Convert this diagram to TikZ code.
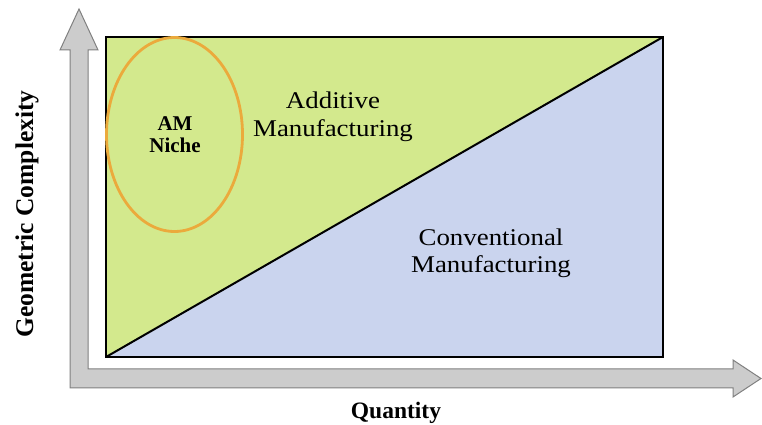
\documentclass[tikz,border=0pt]{standalone}
\usepackage{fontspec}
\setmainfont{Liberation Serif}
\newfontfamily\widefont[FakeStretch=1.12]{Liberation Serif}
\definecolor{amgreen}{RGB}{211,233,141}
\definecolor{cmblue}{RGB}{202,212,238}
\definecolor{nicheorange}{RGB}{235,170,60}
\definecolor{axisfill}{RGB}{204,204,204}
\definecolor{axisdraw}{RGB}{128,128,128}
\begin{document}
\begin{tikzpicture}[x=1pt,y=1pt,
  region/.style={font=\widefont\fontsize{24}{28}\selectfont, anchor=base, inner sep=0pt},
  nichetext/.style={font=\bfseries\fontsize{21}{22}\selectfont, anchor=base, inner sep=0pt},
  axislabel/.style={font=\bfseries\fontsize{23.5}{26}\selectfont, anchor=base, inner sep=0pt}]
\useasboundingbox (0,0) rectangle (762,425);
% axes (one L-shaped block arrow)
\draw[fill=axisfill, draw=axisdraw, line width=1pt, line join=miter]
  (70,37) -- (733,37) -- (733,28) -- (761,46.5) -- (733,65) -- (733,56)
  -- (88,56) -- (88,375) -- (98,375) -- (79,416) -- (60,375) -- (70,375) -- cycle;
% regions
\coordinate (bl) at (106,68);
\coordinate (tr) at (663,388);
\coordinate (tl) at (106,388);
\coordinate (br) at (663,68);
\fill[amgreen] (bl) -- (tl) -- (tr) -- cycle;
\fill[cmblue] (bl) -- (br) -- (tr) -- cycle;
\draw[line width=1.5pt] (bl) rectangle (tr);
\draw[line width=2pt, line cap=round] (bl) -- (tr);
% niche ellipse
\draw[nicheorange, line width=2.8pt] (174.5,290.5) ellipse [x radius=68, y radius=97];
\node[nichetext] (am) at (175,294) {AM};
\node[nichetext] (niche) at (175,272) {Niche};
% region labels
\node[region] (add1) at (333,316) {Additive};
\node[region] (add2) at (333,288) {Manufacturing};
\node[region] (conv1) at (491,179) {Conventional};
\node[region] (conv2) at (491,152) {Manufacturing};
% axis labels
\node[axislabel] (qty) at (396,6) {Quantity};
\node[axislabel, font=\bfseries\fontsize{25.5}{28}\selectfont, rotate=90] (geo) at (33,211) {Geometric Complexity};
\end{tikzpicture}
\end{document}
